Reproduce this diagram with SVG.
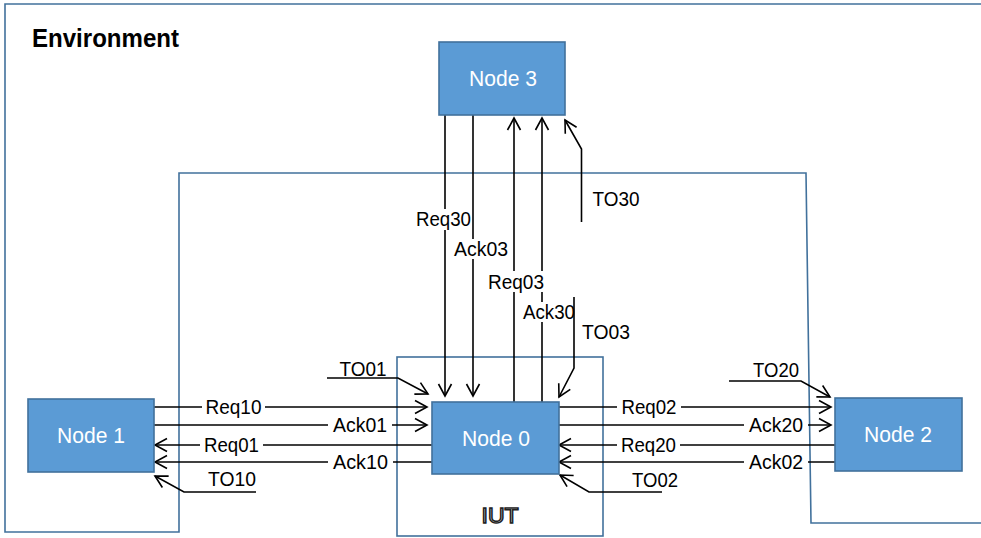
<svg xmlns="http://www.w3.org/2000/svg" width="981" height="538" viewBox="0 0 981 538">
<style>
.box{fill:none;stroke:#41719C;stroke-width:1.6}
.node rect{fill:#5B9BD5;stroke:#41719C;stroke-width:1.6}
.node text{fill:#fff;font-family:"Liberation Sans",Arial,sans-serif;font-size:22.5px;text-anchor:middle}
.ln{fill:none;stroke:#000;stroke-width:1.6}
.arr{marker-end:url(#ah)}
.lb rect{fill:#fff}
.lb text,.tl{fill:#000;font-family:"Liberation Sans",Arial,sans-serif;font-size:20px;text-anchor:middle}
</style>
<defs>
<marker id="ah" markerUnits="userSpaceOnUse" markerWidth="16" markerHeight="16" refX="12" refY="6.5" orient="auto" overflow="visible">
<path d="M0,0 L12,6.5 L0,13" fill="none" stroke="#000" stroke-width="1.6"/>
</marker>
</defs>
<rect width="981" height="538" fill="#fff"/>
<g id="environment">
<path class="box" d="M981,4 L5,4 L5,532 L179,532 L179,173 L806,173 L811,523 L981,523"/>
<text x="32" y="47" font-family="'Liberation Sans',Arial,sans-serif" font-size="26" font-weight="bold" textLength="147" lengthAdjust="spacingAndGlyphs">Environment</text>
</g>
<g id="iut">
<rect class="box" x="397" y="357" width="206" height="179"/>
<text x="500" y="523" font-family="'Liberation Sans',Arial,sans-serif" font-size="22" text-anchor="middle" fill="#fff" stroke="#222" stroke-width="1.5" textLength="37" lengthAdjust="spacingAndGlyphs">IUT</text>
</g>
<g id="connectors">
<g id="req10"><path class="ln arr" d="M154,407 H427"/><g class="lb"><rect x="202" y="397" width="63" height="20"/><text x="233.5" y="414" textLength="56" lengthAdjust="spacingAndGlyphs">Req10</text></g></g>
<g id="ack01"><path class="ln arr" d="M154,425 H427"/><g class="lb"><rect x="328" y="415" width="64" height="20"/><text x="360" y="432" textLength="54" lengthAdjust="spacingAndGlyphs">Ack01</text></g></g>
<g id="req01"><path class="ln arr" d="M432,445 H155"/><g class="lb"><rect x="200" y="435" width="63" height="20"/><text x="231.5" y="452" textLength="55" lengthAdjust="spacingAndGlyphs">Req01</text></g></g>
<g id="ack10"><path class="ln arr" d="M432,462 H155"/><g class="lb"><rect x="328" y="452" width="65" height="20"/><text x="360.5" y="469" textLength="55" lengthAdjust="spacingAndGlyphs">Ack10</text></g></g>
<g id="req02"><path class="ln arr" d="M559,407 H831"/><g class="lb"><rect x="617" y="397" width="64" height="20"/><text x="649" y="414" textLength="55" lengthAdjust="spacingAndGlyphs">Req02</text></g></g>
<g id="ack20"><path class="ln arr" d="M559,425 H831"/><g class="lb"><rect x="744" y="415" width="64" height="20"/><text x="776" y="432" textLength="54" lengthAdjust="spacingAndGlyphs">Ack20</text></g></g>
<g id="req20"><path class="ln arr" d="M835,445 H559"/><g class="lb"><rect x="617" y="435" width="63" height="20"/><text x="648.5" y="452" textLength="55" lengthAdjust="spacingAndGlyphs">Req20</text></g></g>
<g id="ack02"><path class="ln arr" d="M835,462 H559"/><g class="lb"><rect x="744" y="452" width="64" height="20"/><text x="776" y="469" textLength="54" lengthAdjust="spacingAndGlyphs">Ack02</text></g></g>
<g id="req30"><path class="ln arr" d="M445,115 V396"/><g class="lb"><rect x="415" y="209" width="57" height="21"/><text x="443.5" y="226" textLength="55" lengthAdjust="spacingAndGlyphs">Req30</text></g></g>
<g id="ack03"><path class="ln arr" d="M473,115 V396"/><g class="lb"><rect x="452" y="239" width="58" height="20"/><text x="481" y="256" textLength="54" lengthAdjust="spacingAndGlyphs">Ack03</text></g></g>
<g id="ack30"><path class="ln arr" d="M542,402 V118"/><g class="lb"><rect x="521" y="302" width="52" height="20"/><text x="549" y="319" textLength="52" lengthAdjust="spacingAndGlyphs">Ack30</text></g></g>
<g id="req03"><path class="ln arr" d="M514,402 V118"/><g class="lb"><rect x="486" y="271" width="60" height="21"/><text x="516" y="289" textLength="56" lengthAdjust="spacingAndGlyphs">Req03</text></g></g>
<g id="to30"><path class="ln arr" d="M581.5,222 V149 L565,120"/><text class="tl" x="616" y="206" textLength="47" lengthAdjust="spacingAndGlyphs">TO30</text></g>
<g id="to03"><path class="ln arr" d="M574,297 V368 L559,397"/><text class="tl" x="606" y="339" textLength="48" lengthAdjust="spacingAndGlyphs">TO03</text></g>
<g id="to01"><path class="ln arr" d="M327,378 H398 L428,394"/><text class="tl" x="363" y="376" textLength="47" lengthAdjust="spacingAndGlyphs">TO01</text></g>
<g id="to10"><path class="ln arr" d="M256,492 H184 L155,476"/><text class="tl" x="232" y="486" textLength="48" lengthAdjust="spacingAndGlyphs">TO10</text></g>
<g id="to02"><path class="ln arr" d="M662,492 H589 L560,475"/><text class="tl" x="655" y="487" textLength="46" lengthAdjust="spacingAndGlyphs">TO02</text></g>
<g id="to20"><path class="ln arr" d="M729,381 H801 L830,397"/><text class="tl" x="776" y="377" textLength="46" lengthAdjust="spacingAndGlyphs">TO20</text></g>
</g>
<g id="node3" class="node"><rect x="439" y="42" width="126" height="73"/><text x="503" y="86" textLength="68" lengthAdjust="spacingAndGlyphs">Node 3</text></g>
<g id="node0" class="node"><rect x="432" y="402" width="127" height="72"/><text x="496" y="446" textLength="68" lengthAdjust="spacingAndGlyphs">Node 0</text></g>
<g id="node1" class="node"><rect x="28" y="399" width="126" height="73"/><text x="91" y="443" textLength="68" lengthAdjust="spacingAndGlyphs">Node 1</text></g>
<g id="node2" class="node"><rect x="835" y="398" width="127" height="73"/><text x="898" y="442" textLength="68" lengthAdjust="spacingAndGlyphs">Node 2</text></g>
</svg>
